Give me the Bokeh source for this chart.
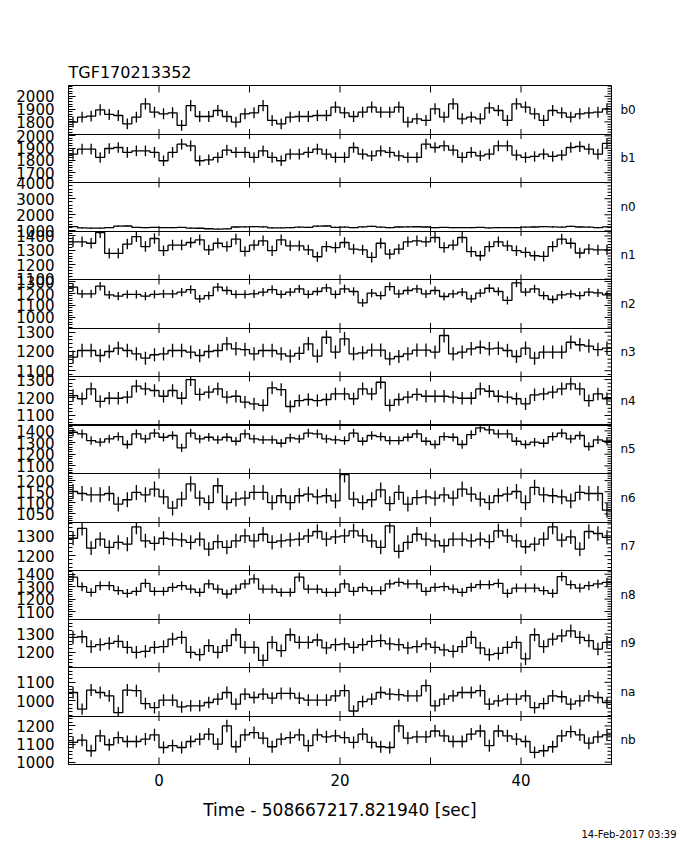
import numpy as np
from bokeh.plotting import figure
from bokeh.models import Range1d, LinearAxis, FixedTicker, Span, Title
from bokeh.embed import file_html
from bokeh.resources import INLINE

# ---------------- data ----------------
TIME_START = -10.0
TIME_END = 50.0
BIN_WIDTH = 1.0

detectors = ["b0", "b1", "n0", "n1", "n2", "n3", "n4", "n5", "n6", "n7", "n8", "n9", "na", "nb"]

b0 = [1798, 1837, 1845, 1894, 1858, 1850, 1785, 1837, 1941, 1876, 1863, 1871, 1772, 1928, 1842,
      1842, 1889, 1842, 1798, 1863, 1871, 1928, 1811, 1785, 1837, 1842, 1842, 1850, 1850, 1915,
      1871, 1842, 1876, 1915, 1876, 1876, 1915, 1798, 1824, 1811, 1902, 1837, 1941, 1824, 1837,
      1824, 1910, 1889, 1811, 1941, 1915, 1863, 1811, 1889, 1871, 1837, 1863, 1871, 1876, 1902]
b1 = [1851, 1892, 1892, 1824, 1897, 1905, 1865, 1878, 1878, 1865, 1797, 1865, 1932, 1919, 1797,
      1805, 1824, 1884, 1865, 1865, 1824, 1878, 1824, 1797, 1851, 1851, 1865, 1892, 1851, 1824,
      1824, 1905, 1851, 1837, 1878, 1865, 1837, 1824, 1824, 1932, 1905, 1919, 1884, 1824, 1865,
      1837, 1851, 1919, 1919, 1843, 1824, 1832, 1851, 1832, 1843, 1905, 1913, 1892, 1851, 1938]
n0 = [1267, 1180, 1170, 1165, 1205, 1290, 1300, 1210, 1200, 1215, 1205, 1195, 1210, 1170, 1160,
      1130, 1110, 1125, 1240, 1250, 1260, 1245, 1180, 1190, 1200, 1230, 1220, 1290, 1300, 1220,
      1230, 1200, 1250, 1280, 1230, 1200, 1240, 1250, 1255, 1240, 1200, 1210, 1195, 1205, 1200,
      1210, 1180, 1200, 1205, 1195, 1230, 1240, 1260, 1250, 1230, 1275, 1240, 1230, 1200, 1250]
n1 = [1359, 1359, 1349, 1423, 1278, 1278, 1343, 1395, 1326, 1382, 1297, 1336, 1336, 1354, 1372,
      1303, 1349, 1326, 1377, 1292, 1336, 1366, 1297, 1372, 1331, 1331, 1303, 1255, 1326, 1319,
      1354, 1308, 1303, 1251, 1349, 1274, 1308, 1359, 1366, 1359, 1389, 1319, 1336, 1389, 1290,
      1262, 1326, 1359, 1331, 1297, 1285, 1262, 1257, 1326, 1377, 1349, 1281, 1308, 1303, 1303]
n2 = [1253, 1197, 1197, 1261, 1189, 1178, 1192, 1192, 1178, 1192, 1197, 1197, 1211, 1233, 1156,
      1183, 1253, 1225, 1192, 1192, 1197, 1211, 1233, 1192, 1211, 1239, 1192, 1217, 1247, 1192,
      1239, 1217, 1122, 1203, 1183, 1258, 1197, 1225, 1239, 1197, 1225, 1175, 1197, 1211, 1156,
      1203, 1244, 1217, 1142, 1289, 1211, 1239, 1183, 1150, 1189, 1197, 1183, 1211, 1206, 1189]
n3 = [1171, 1205, 1205, 1179, 1200, 1217, 1205, 1188, 1165, 1183, 1188, 1205, 1205, 1197, 1179,
      1200, 1205, 1240, 1214, 1210, 1188, 1205, 1205, 1188, 1176, 1190, 1240, 1176, 1274, 1197,
      1266, 1188, 1193, 1207, 1207, 1162, 1174, 1188, 1207, 1207, 1197, 1283, 1188, 1197, 1214,
      1222, 1214, 1217, 1205, 1174, 1217, 1165, 1197, 1197, 1197, 1248, 1235, 1228, 1210, 1217]
n4 = [1211, 1193, 1248, 1178, 1196, 1196, 1202, 1263, 1248, 1239, 1207, 1239, 1196, 1300, 1217,
      1230, 1248, 1202, 1207, 1174, 1165, 1156, 1254, 1244, 1150, 1183, 1189, 1183, 1189, 1220,
      1220, 1193, 1248, 1220, 1285, 1156, 1189, 1202, 1217, 1207, 1207, 1207, 1202, 1196, 1196,
      1248, 1235, 1207, 1202, 1193, 1165, 1215, 1220, 1230, 1248, 1276, 1248, 1183, 1220, 1193]
n5 = [1388, 1374, 1317, 1303, 1331, 1351, 1283, 1374, 1331, 1380, 1345, 1360, 1255, 1380, 1331,
      1345, 1323, 1345, 1311, 1374, 1331, 1323, 1323, 1294, 1340, 1331, 1380, 1374, 1331, 1323,
      1317, 1380, 1311, 1360, 1351, 1317, 1317, 1345, 1374, 1311, 1283, 1351, 1345, 1283, 1368,
      1426, 1408, 1374, 1374, 1311, 1283, 1303, 1294, 1351, 1380, 1331, 1360, 1266, 1323, 1311]
n6 = [1151, 1142, 1136, 1136, 1142, 1094, 1114, 1147, 1136, 1162, 1127, 1076, 1117, 1185, 1121,
      1101, 1177, 1101, 1117, 1121, 1147, 1147, 1101, 1132, 1101, 1132, 1139, 1127, 1132, 1109,
      1227, 1117, 1101, 1114, 1158, 1097, 1147, 1094, 1124, 1127, 1121, 1136, 1121, 1162, 1139,
      1117, 1101, 1132, 1139, 1151, 1101, 1170, 1136, 1132, 1127, 1109, 1147, 1142, 1142, 1067]
n7 = [1288, 1338, 1238, 1283, 1242, 1267, 1258, 1345, 1275, 1262, 1288, 1283, 1280, 1267, 1283,
      1233, 1271, 1242, 1275, 1300, 1275, 1308, 1267, 1275, 1280, 1283, 1300, 1322, 1283, 1295,
      1300, 1325, 1300, 1275, 1242, 1350, 1222, 1267, 1308, 1283, 1275, 1250, 1283, 1283, 1275,
      1283, 1271, 1325, 1300, 1275, 1245, 1258, 1283, 1345, 1278, 1295, 1233, 1322, 1312, 1292]
n8 = [1376, 1300, 1254, 1308, 1308, 1268, 1246, 1262, 1327, 1262, 1262, 1295, 1308, 1281, 1254,
      1322, 1281, 1241, 1281, 1322, 1362, 1281, 1281, 1254, 1254, 1376, 1281, 1281, 1254, 1254,
      1322, 1262, 1295, 1268, 1268, 1322, 1335, 1322, 1322, 1262, 1295, 1300, 1281, 1254, 1295,
      1316, 1316, 1327, 1246, 1289, 1289, 1289, 1268, 1246, 1381, 1316, 1289, 1308, 1322, 1335]
n9 = [1281, 1285, 1230, 1241, 1248, 1259, 1226, 1199, 1204, 1226, 1230, 1272, 1281, 1199, 1186,
      1236, 1199, 1236, 1296, 1226, 1226, 1154, 1254, 1208, 1296, 1254, 1254, 1267, 1223, 1241,
      1245, 1226, 1241, 1259, 1263, 1245, 1241, 1223, 1230, 1245, 1226, 1212, 1204, 1230, 1281,
      1223, 1186, 1193, 1226, 1254, 1163, 1296, 1230, 1272, 1290, 1317, 1281, 1263, 1217, 1254]
na = [1045, 955, 1058, 1045, 1027, 936, 1058, 1055, 985, 963, 1004, 1004, 967, 973, 973,
      991, 1009, 1045, 982, 1036, 1018, 1036, 1015, 1040, 1040, 1015, 1004, 1004, 1004, 1027,
      1055, 945, 996, 1009, 1045, 1036, 1033, 1027, 1027, 1082, 973, 1009, 1027, 1045, 1045,
      1055, 982, 1000, 1009, 1009, 1027, 963, 985, 1027, 1022, 982, 1000, 1027, 1018, 991]
nb = [1109, 1122, 1063, 1145, 1096, 1136, 1114, 1114, 1127, 1151, 1081, 1091, 1081, 1114, 1127,
      1155, 1100, 1200, 1085, 1151, 1163, 1133, 1085, 1127, 1136, 1151, 1091, 1151, 1140, 1145,
      1136, 1109, 1155, 1109, 1085, 1081, 1200, 1133, 1140, 1140, 1172, 1145, 1114, 1114, 1155,
      1172, 1091, 1172, 1145, 1127, 1114, 1054, 1063, 1085, 1145, 1169, 1151, 1105, 1140, 1151]

series = [b0, b1, n0, n1, n2, n3, n4, n5, n6, n7, n8, n9, na, nb]

# y-axis limits of every panel
y_lo = [1705, 1620, 990, 1097, 912, 1070, 1047, 1035, 1014, 1125, 1040, 1115, 918, 987]
y_hi = [2085, 2015, 4010, 1434, 1317, 1322, 1317, 1450, 1232, 1370, 1430, 1383, 1180, 1255]

# labelled y ticks of every panel
y_ticks = [
    [1800, 1900, 2000],
    [1700, 1800, 1900, 2000],
    [1000, 2000, 3000, 4000],
    [1100, 1200, 1300, 1400],
    [1000, 1100, 1200, 1300],
    [1100, 1200, 1300],
    [1100, 1200, 1300],
    [1100, 1200, 1300, 1400],
    [1050, 1100, 1150, 1200],
    [1200, 1300],
    [1100, 1200, 1300, 1400],
    [1200, 1300],
    [1000, 1100],
    [1000, 1100, 1200],
]
y_minor_step = [20, 20, 200, 20, 20, 20, 20, 20, 10, 20, 20, 20, 20, 20]

x_ticks = [0, 10, 20, 30, 40]
x_label_ticks = [0, 20, 40]
x_tick_labels = ["0", "20", "40"]

# ---------------- figure ----------------
FONT = "DejaVu Sans"
NP = len(detectors)
FW, FH = 543, 679

p = figure(frame_width=FW, frame_height=FH,
           x_range=Range1d(TIME_START, TIME_END), y_range=Range1d(0, NP),
           output_backend="svg", toolbar_location=None,
           min_border_left=68, min_border_right=67, min_border_top=85, min_border_bottom=84,
           background_fill_color="white", border_fill_color="white")
p.outline_line_color = "black"
p.outline_line_width = 1

edges = TIME_START + BIN_WIDTH * np.arange(len(b0) + 1)
centers = edges[:-1] + BIN_WIDTH / 2

extra = {}
maj_pos, maj_lab, min_pos = [], {}, []
for k, name in enumerate(detectors):
    lo, hi = y_lo[k], y_hi[k]
    span = hi - lo
    base = (NP - 1 - k)
    start = lo - base * span
    extra[name] = Range1d(start, start + NP * span)
    for t in y_ticks[k]:
        pos = round(base + (t - lo) / span, 6)
        maj_pos.append(pos)
        maj_lab[pos] = str(t)
    st = y_minor_step[k]
    m = np.ceil(lo / st) * st
    while m <= hi:
        if m not in y_ticks[k]:
            min_pos.append(round(base + (m - lo) / span, 6))
        m += st
p.extra_y_ranges = extra

for k, name in enumerate(detectors):
    vals = np.array(series[k], dtype=float)
    err = np.sqrt(vals)
    lo, hi = y_lo[k], y_hi[k]
    p.step(x=edges, y=np.append(vals, vals[-1]), mode="after", y_range_name=name,
           line_color="black", line_width=1.3)
    p.segment(x0=centers, x1=centers, y0=np.clip(vals - err, lo, hi), y1=np.clip(vals + err, lo, hi),
              y_range_name=name, line_color="black", line_width=1.3)

# panel separators
p.xgrid.visible = False
p.ygrid.ticker = FixedTicker(ticks=list(range(1, NP)))
p.ygrid.grid_line_color = "black"
p.ygrid.grid_line_alpha = 1.0
p.ygrid.grid_line_width = 1
p.add_layout(Span(location=NP - 7, dimension="width", line_color="black", line_width=2))

# x ticks on every panel border (pointing into both neighbouring panels)
slot_px = FH / NP
tx, ty0, ty1 = [], [], []
for b in range(0, NP + 1):
    for t in x_ticks:
        tx.append(t)
        if b == 0:
            ty0.append(0.0); ty1.append(7 / slot_px)
        elif b == NP:
            ty0.append(NP - 7 / slot_px); ty1.append(float(NP))
        else:
            ty0.append(b - 5 / slot_px); ty1.append(b + 5 / slot_px)
p.segment(x0=tx, x1=tx, y0=ty0, y1=ty1, line_color="black", line_width=1)

# right-hand y ticks (pointing inwards)
sec_per_px = (TIME_END - TIME_START) / FW
rpos = maj_pos + min_pos
rlen = [7 * sec_per_px] * len(maj_pos) + [4 * sec_per_px] * len(min_pos)
p.segment(x0=[TIME_END - l for l in rlen], x1=[TIME_END] * len(rpos), y0=rpos, y1=rpos,
          line_color="black", line_width=1)

# left axis
yax = p.yaxis[0]
yax.ticker = FixedTicker(ticks=maj_pos, minor_ticks=min_pos)
yax.major_label_overrides = maj_lab
yax.major_tick_in = 7
yax.major_tick_out = 0
yax.minor_tick_in = 4
yax.minor_tick_out = 0
yax.major_label_standoff = 14
yax.major_label_text_font = FONT
yax.major_label_text_font_size = "15px"
yax.major_label_text_color = "black"
yax.axis_line_color = "black"
yax.major_tick_line_color = "black"
yax.minor_tick_line_color = "black"

# detector names on the right
name_pos = [round(NP - 1 - k + 0.5, 6) for k in range(NP)]
nax = LinearAxis(ticker=FixedTicker(ticks=name_pos, minor_ticks=[]),
                 major_label_overrides={pos: nm for pos, nm in zip(name_pos, detectors)},
                 major_tick_in=0, major_tick_out=0, minor_tick_in=0, minor_tick_out=0,
                 axis_line_color=None, major_label_standoff=9,
                 major_label_text_font=FONT, major_label_text_font_size="12px",
                 major_label_text_color="black")
p.add_layout(nax, "right")

# bottom axis
xax = p.xaxis[0]
xax.ticker = FixedTicker(ticks=x_label_ticks, minor_ticks=[])
xax.major_label_overrides = {t: lab for t, lab in zip(x_label_ticks, x_tick_labels)}
xax.major_tick_in = 0
xax.major_tick_out = 0
xax.major_label_standoff = 9
xax.major_label_text_font = FONT
xax.major_label_text_font_size = "15px"
xax.major_label_text_color = "black"
xax.axis_label = "Time - 508667217.821940 [sec]"
xax.axis_label_text_font = FONT
xax.axis_label_text_font_size = "17px"
xax.axis_label_text_font_style = "normal"
xax.axis_label_text_color = "black"
xax.axis_label_standoff = 11
xax.axis_line_color = "black"

# title
p.title.text = "TGF170213352"
p.title.align = "left"
p.title.text_font = FONT
p.title.text_font_size = "16px"
p.title.text_font_style = "normal"
p.title.text_color = "black"
p.title.standoff = 8

date = Title(text="14-Feb-2017 03:39", align="right", offset=-65,
             text_font=FONT, text_font_size="10px", text_font_style="normal",
             text_color="black", standoff=8)
p.add_layout(date, "below")

open("out.html", "w").write(file_html(p, INLINE))
